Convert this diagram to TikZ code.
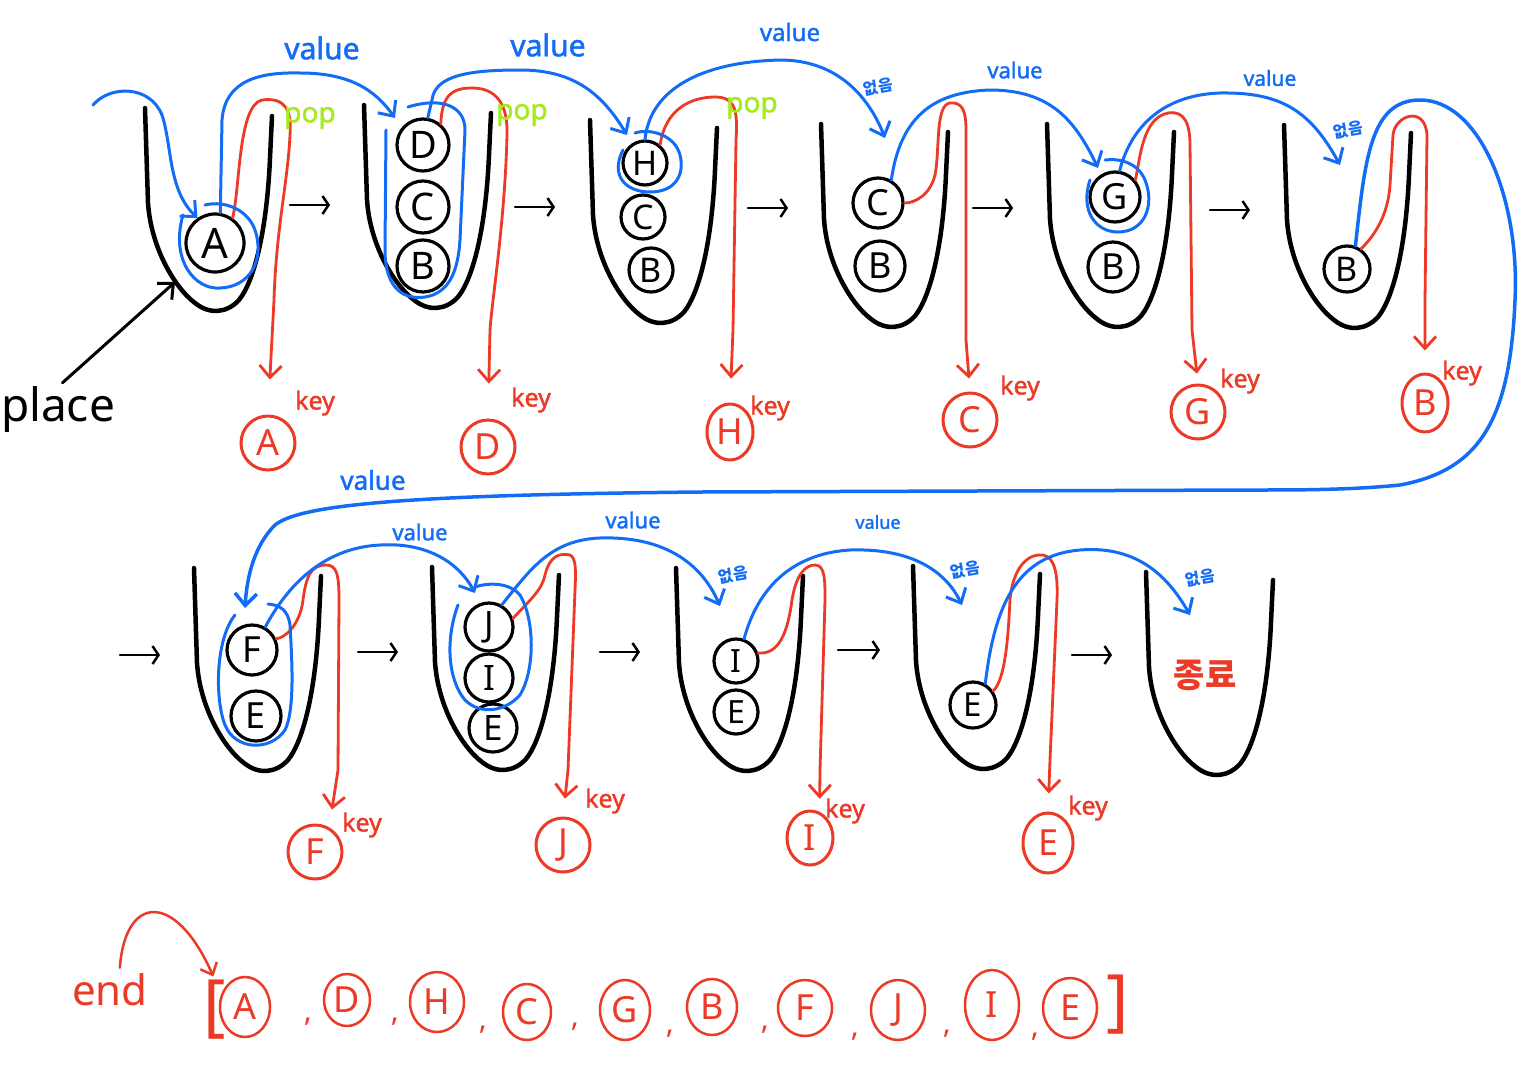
\documentclass[tikz,border=0pt]{standalone}
\usepackage{fontspec}
\setmainfont{Noto Sans}
\newfontfamily\hand{Noto Sans}[FakeBold=1.6]
\newfontfamily\kr{Noto Sans CJK KR}
\usetikzlibrary{arrows.meta,shapes.geometric}
\definecolor{pblue}{RGB}{18,108,245}
\definecolor{pred}{RGB}{236,58,38}
\definecolor{pgreen}{RGB}{165,235,30}
\newcommand\fs[1]{\fontsize{#1}{#1}\selectfont}
\newcommand\cupU[2]{\begin{scope}[shift={(#1,#2)}]\draw[cupline] (0,0) -- (3,95) .. controls (6,140) and (30,180) .. (50,195) .. controls (65,207) and (82,205) .. (94,192) .. controls (110,172) and (122,120) .. (125,50) -- (127,8);\end{scope}}
\tikzset{
  cupline/.style={line width=4.5pt},
  stk/.style={circle, draw, line width=3.2pt, inner sep=0pt},
  keyc/.style={circle, draw=pred, text=pred, line width=3pt, inner sep=0pt, minimum size=54pt, font=\fs{36}},
  listc/.style={ellipse, draw=pred, text=pred, line width=2.5pt, inner sep=0pt, font=\fs{36}},
  redk/.style={pred, line width=2.8pt, -{Straight Barb[length=12pt,width=22pt]}},
  bluev/.style={pblue, line width=3pt, -{Straight Barb[length=12pt,width=22pt]}},
  blueenc/.style={pblue, line width=3pt},
  nxt/.style={line width=2.5pt, -{Straight Barb[length=6pt,width=18pt]}},
  lblue/.style={text=pblue, inner sep=0pt},
  lred/.style={text=pred, inner sep=0pt},
  lgreen/.style={text=pgreen, inner sep=0pt, font=\hand\fs{28}},
  none/.style={text=pblue, inner sep=0pt, font=\kr\bfseries\fs{16}, rotate=10},
}
\begin{document}
\begin{tikzpicture}[x=1pt,y=-1pt,line cap=round,line join=round]
\fill[white] (0,0) rectangle (1536,1074);
\useasboundingbox (0,0) rectangle (1536,1074);

% cups
\cupU{145}{108}
\cupU{364}{105}
\cupU{590}{120}
\cupU{821}{124}
\cupU{1047}{124}
\cupU{1284}{125}
\cupU{194}{568}
\cupU{432}{567}
\cupU{676}{568}
\cupU{913}{566}
\cupU{1146}{572}

% next arrows
\draw[nxt] (290,205) -- ++(40,0);
\draw[nxt] (515,207) -- ++(40,0);
\draw[nxt] (748,208) -- ++(40,0);
\draw[nxt] (973,208) -- ++(40,0);
\draw[nxt] (1210,210) -- ++(40,0);
\draw[nxt] (120,655) -- ++(40,0);
\draw[nxt] (358,652) -- ++(40,0);
\draw[nxt] (600,652) -- ++(40,0);
\draw[nxt] (838,650) -- ++(42,0);
\draw[nxt] (1072,655) -- ++(40,0);

% stack nodes
\node[stk, minimum size=58pt, font=\fs{42}] (c1A) at (215,243) {A};
\node[stk, minimum size=52pt, font=\fs{38}] (c2D) at (423,145) {D};
\node[stk, minimum size=52pt, font=\fs{38}] (c2C) at (423,207) {C};
\node[stk, minimum size=52pt, font=\fs{38}] (c2B) at (423,266) {B};
\node[stk, minimum size=44pt, font=\fs{34}] (c3H) at (645,163) {H};
\node[stk, minimum size=44pt, font=\fs{34}] (c3C) at (643,217) {C};
\node[stk, minimum size=44pt, font=\fs{34}] (c3B) at (651,270) {B};
\node[stk, minimum size=50pt, font=\fs{36}] (c4C) at (878,203) {C};
\node[stk, minimum size=50pt, font=\fs{36}] (c4B) at (880,266) {B};
\node[stk, minimum size=50pt, font=\fs{36}] (c5G) at (1115,197) {G};
\node[stk, minimum size=50pt, font=\fs{36}] (c5B) at (1113,267) {B};
\node[stk, minimum size=46pt, font=\fs{34}] (c6B) at (1347,269) {B};
\node[stk, minimum size=50pt, font=\fs{36}] (c7F) at (252,650) {F};
\node[stk, minimum size=50pt, font=\fs{36}] (c7E) at (256,716) {E};
\node[stk, minimum size=48pt, font=\fs{35}] (c8J) at (489,627) {J};
\node[stk, minimum size=48pt, font=\fs{35}] (c8I) at (489,678) {I};
\node[stk, minimum size=48pt, font=\fs{35}] (c8E) at (493,728) {E};
\node[stk, minimum size=44pt, font=\fs{32}] (c9I) at (736,661) {I};
\node[stk, minimum size=44pt, font=\fs{32}] (c9E) at (736,712) {E};
\node[stk, minimum size=46pt, font=\fs{33}] (c10E) at (973,705) {E};

% key nodes
\node[keyc] (kA) at (268,443) {A};
\node[keyc] (kD) at (488,447) {D};
\node[keyc, ellipse, minimum width=46pt, minimum height=56pt] (kH) at (730,432) {H};
\node[keyc] (kC) at (970,420) {C};
\node[keyc] (kG) at (1198,412) {G};
\node[keyc, ellipse, minimum width=46pt, minimum height=58pt] (kB) at (1425,403) {B};
\node[keyc] (kF) at (315,852) {F};
\node[keyc] (kJ) at (563,845) {J};
\node[keyc, ellipse, minimum width=46pt, minimum height=54pt] (kI) at (810,838) {I};
\node[keyc, ellipse, minimum width=50pt, minimum height=60pt] (kE) at (1048,843) {E};
\foreach \p in {(315,403),(531,400),(770,408),(1020,388),(1240,381),(1462,373),(362,825),(605,801),(845,811),(1088,808)}
  \node[lred, font=\hand\fs{25}] at \p {key};

% red key arrows
\draw[redk, shorten >=35pt] (c1A.55) .. controls (240,190) and (238,105) .. (262,100) .. controls (285,97) and (292,110) .. (290,135) .. controls (288,180) and (276,230) .. (274,300) -- (kA.north);
\draw[redk, shorten >=35pt] (c2D.50) .. controls (442,95) and (452,88) .. (472,88) .. controls (497,88) and (508,105) .. (507,135) .. controls (505,220) and (492,300) .. (490,330) -- (kD.north);
\draw[redk, shorten >=24pt] (c3H.50) .. controls (665,110) and (690,97) .. (715,97) .. controls (735,97) and (738,110) .. (736,140) -- (733,330) -- (kH.north);
\draw[redk, shorten >=13pt] (c4C.east) .. controls (915,203) and (930,195) .. (935,175) .. controls (940,150) and (935,105) .. (950,103) .. controls (962,102) and (966,110) .. (966,130) -- (966,340) -- (kC.north);
\draw[redk, shorten >=10pt] (c5G.40) .. controls (1140,160) and (1142,118) .. (1168,113) .. controls (1185,110) and (1190,125) .. (1190,145) -- (1192,330) -- (kG.north);
\draw[redk, shorten >=22pt] (c6B.55) .. controls (1375,235) and (1388,215) .. (1390,185) -- (1393,135) .. controls (1395,115) and (1425,105) .. (1427,135) -- (1425,300) -- (kB.north);
\draw[redk, shorten >=18pt] (c7F.25) .. controls (285,638) and (300,625) .. (303,600) .. controls (306,578) and (310,565) .. (326,565) .. controls (337,565) and (339,575) .. (339,600) -- (338,770) -- (kF.60);
\draw[redk, shorten >=18pt] (c8J.20) .. controls (530,600) and (542,590) .. (545,575) .. controls (550,555) and (560,553) .. (570,555) .. controls (576,558) and (576,570) .. (575,590) -- (568,770) -- (kJ.north);
\draw[redk, shorten >=13pt] (c9I.20) .. controls (780,655) and (788,630) .. (792,600) .. controls (796,575) and (805,565) .. (815,565) .. controls (825,565) and (825,580) .. (825,600) -- (820,770) -- (kI.70);
\draw[redk, shorten >=18pt] (c10E.35) .. controls (1005,680) and (1008,640) .. (1010,600) .. controls (1013,565) and (1030,553) .. (1043,555) .. controls (1055,557) and (1058,575) .. (1057,600) -- (1050,760) -- (kE.north);

% pop labels
\node[lgreen] at (310,118) {pop};
\node[lgreen] at (522,115) {pop};
\node[lgreen] at (752,108) {pop};

% blue enclosures
\draw[blueenc] (183,215) .. controls (170,260) and (195,290) .. (220,288) .. controls (250,287) and (265,260) .. (255,230) .. controls (248,210) and (225,200) .. (205,205);
\draw[blueenc] (386,130) -- (385,250) .. controls (385,290) and (405,300) .. (425,297) .. controls (450,293) and (458,270) .. (460,240) -- (465,130) .. controls (465,105) and (440,97) .. (408,107);
\draw[blueenc] (623,150) .. controls (610,175) and (625,192) .. (650,192) .. controls (675,192) and (685,175) .. (680,155) .. controls (675,135) and (650,128) .. (635,133);
\draw[blueenc] (1090,180) .. controls (1080,210) and (1095,232) .. (1118,232) .. controls (1145,232) and (1155,205) .. (1145,180) .. controls (1138,163) and (1120,158) .. (1105,160);
\draw[blueenc] (235,615) .. controls (215,640) and (215,700) .. (225,725) .. controls (235,750) and (270,752) .. (285,730) .. controls (295,710) and (292,660) .. (290,625) .. controls (288,610) and (280,605) .. (268,604);
\draw[blueenc] (458,605) .. controls (445,640) and (448,680) .. (465,700) .. controls (480,715) and (505,712) .. (520,695) .. controls (535,670) and (535,620) .. (520,595) .. controls (510,583) and (490,582) .. (475,587);

% blue value arrows
\coordinate (s0) at (93,105);
\coordinate (in2) at (395,118);
\coordinate (in3) at (627,135);
\coordinate (in4) at (885,138);
\coordinate (in5) at (1098,168);
\coordinate (in6) at (1340,165);
\coordinate (in7) at (245,608);
\coordinate (in8) at (475,593);
\coordinate (in9) at (720,606);
\coordinate (in10) at (962,605);
\coordinate (in11) at (1190,615);
\draw[bluev] (s0) .. controls (110,85) and (150,85) .. (162,115) .. controls (172,145) and (168,190) .. (c1A.125);
\draw[bluev] (c1A.80) -- (222,120) .. controls (225,80) and (260,72) .. (300,73) .. controls (350,73) and (375,90) .. (in2);
\draw[bluev] (c2D.80) -- (432,100) .. controls (435,75) and (470,70) .. (520,70) .. controls (570,70) and (600,90) .. (in3);
\draw[bluev] (c3H.north) .. controls (650,90) and (700,62) .. (780,60) .. controls (840,60) and (870,100) .. (in4);
\draw[bluev] (c4C.60) .. controls (900,120) and (930,92) .. (990,90) .. controls (1050,90) and (1075,120) .. (in5);
\draw[bluev] (c5G.80) .. controls (1130,130) and (1160,95) .. (1220,93) .. controls (1280,92) and (1310,110) .. (in6);
\draw[bluev, line width=3.5pt] (c6B.70) .. controls (1365,160) and (1370,100) .. (1420,100) .. controls (1480,100) and (1520,200) .. (1515,300) .. controls (1510,420) and (1480,470) .. (1400,485) .. controls (1350,490) and (1300,490) .. (1250,490) -- (700,492) .. controls (400,495) and (300,505) .. (275,525) .. controls (255,545) and (247,575) .. (in7);
\draw[bluev] (c7F.60) .. controls (285,590) and (320,548) .. (380,545) .. controls (430,542) and (460,565) .. (in8);
\draw[bluev] (c8J.60) .. controls (530,570) and (550,540) .. (600,538) .. controls (660,536) and (700,560) .. (in9);
\draw[bluev] (c9I.70) .. controls (760,580) and (800,553) .. (850,550) .. controls (910,548) and (945,570) .. (in10);
\draw[bluev] (c10E.60) .. controls (995,600) and (1020,555) .. (1080,550) .. controls (1140,545) and (1170,580) .. (in11);

% value labels
\node[lblue, font=\hand\fs{30}] at (322,48) {value};
\node[lblue, font=\hand\fs{30}] at (548,45) {value};
\node[lblue, font=\hand\fs{24}] at (790,32) {value};
\node[lblue, font=\hand\fs{22}] at (1015,70) {value};
\node[lblue, font=\hand\fs{21}] at (1270,78) {value};
\node[lblue, font=\hand\fs{26}] at (373,480) {value};
\node[lblue, font=\hand\fs{22}] at (420,532) {value};
\node[lblue, font=\hand\fs{22}] at (633,520) {value};
\node[lblue, font=\hand\fs{18}] at (878,522) {value};
\node[none] at (878,87) {없음};
\node[none] at (1348,130) {없음};
\node[none] at (733,575) {없음};
\node[none] at (965,570) {없음};
\node[none] at (1200,578) {없음};
\node[lred, font=\kr\bfseries\fs{34}] at (1205,675) {종료};

% place
\node[font=\fs{46}, inner sep=0pt] (place) at (58,410) {place};
\coordinate (pt) at (175,282);
\draw[line width=3pt, -{Straight Barb[length=12pt,width=22pt]}, shorten <=6pt] (place.north) -- (pt);

% result list
\node[lred, font=\fs{42}] (endl) at (110,990) {end};
\node[lred, font=\fs{68}] (lbr) at (215,1010) {[};
\draw[pred, line width=2.5pt, -{Straight Barb[length=10pt,width=18pt]}, shorten <=6pt, shorten >=4pt] (endl.60) .. controls (125,895) and (175,890) .. (lbr.north);
\node[listc, minimum width=50pt, minimum height=60pt] (l1) at (245,1007) {A};
\node[listc, minimum width=46pt, minimum height=52pt] (l2) at (347,1000) {D};
\node[listc, minimum width=54pt, minimum height=60pt] (l3) at (437,1002) {H};
\node[listc, minimum width=48pt, minimum height=56pt] (l4) at (527,1012) {C};
\node[listc, minimum width=50pt, minimum height=60pt] (l5) at (625,1010) {G};
\node[listc, minimum width=50pt, minimum height=56pt] (l6) at (712,1007) {B};
\node[listc, minimum width=54pt, minimum height=56pt] (l7) at (805,1008) {F};
\node[listc, minimum width=54pt, minimum height=60pt] (l8) at (898,1010) {J};
\node[listc, minimum width=54pt, minimum height=70pt] (l9) at (992,1005) {I};
\node[listc, minimum width=54pt, minimum height=60pt] (l10) at (1070,1008) {E};
\foreach \p in {(308,1022),(395,1022),(483,1030),(575,1027),(670,1034),(765,1030),(855,1037),(947,1034),(1035,1037)}
  \node[lred, font=\fs{30}] at \p {,};
\node[lred, font=\fs{68}] (rbr) at (1118,1005) {]};
\end{tikzpicture}
\end{document}
